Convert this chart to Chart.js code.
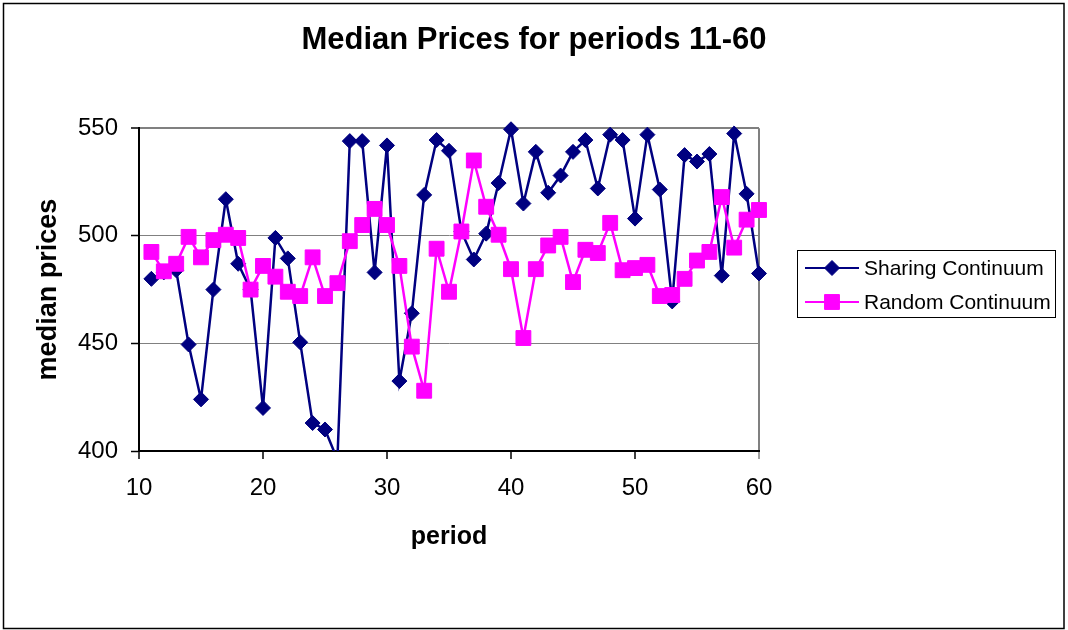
<!DOCTYPE html>
<html>
<head>
<meta charset="utf-8">
<title>Median Prices for periods 11-60</title>
<script src="https://cdn.jsdelivr.net/npm/chart.js@4.4.0/dist/chart.umd.min.js"></script>
<style>
    html, body { margin: 0; padding: 0; background: #ffffff; }
    #priceChart { display: block; }
</style>
</head>
<body>
<canvas id="priceChart" width="1068" height="630"></canvas>
<script>
// Data
const periods = [11, 12, 13, 14, 15, 16, 17, 18, 19, 20,
                 21, 22, 23, 24, 25, 26, 27, 28, 29, 30,
                 31, 32, 33, 34, 35, 36, 37, 38, 39, 40,
                 41, 42, 43, 44, 45, 46, 47, 48, 49, 50,
                 51, 52, 53, 54, 55, 56, 57, 58, 59, 60];

const sharingContinuum = [480, 483, 484, 449.5, 424, 475, 517, 487, 475, 420,
                          499, 489.5, 450.5, 413, 410, 396, 544, 544, 483, 542,
                          432.5, 464, 519, 544.5, 539.5, 502, 489, 501, 524.5, 549.5,
                          515, 539, 520, 528, 539, 544.5, 522, 547, 544.5, 508,
                          547, 521.5, 469.5, 537.5, 534.5, 538, 481.5, 547.5, 519.5, 482.5];

const randomContinuum = [492.5, 483.5, 487, 499.5, 490, 498, 500.5, 499, 475, 486,
                         481, 474, 472, 490, 472, 478, 497.5, 505, 512.5, 505,
                         486, 448.5, 428, 494, 474, 502, 535, 513.5, 500.5, 484.5,
                         452.5, 484.5, 495.5, 499.5, 478.5, 493.5, 492, 506, 484, 485,
                         486.5, 472, 472.5, 480, 488.5, 492.5, 518, 494.5, 507.5, 512];

const seriesLabels = ['Sharing Continuum', 'Random Continuum'];
const xTicks = [10, 20, 30, 40, 50, 60];
const yTicks = [400, 450, 500, 550];

const FONT = '"Liberation Sans", Arial, Helvetica, sans-serif';

const toPoints = (values) => values.map((v, i) => ({ x: periods[i], y: v }));

// White page with the thin outer frame
const framePlugin = {
    id: 'frame',
    beforeDraw(chart) {
        const ctx = chart.ctx;
        ctx.save();
        ctx.fillStyle = '#ffffff';
        ctx.fillRect(0, 0, chart.width, chart.height);
        ctx.strokeStyle = '#000000';
        ctx.lineWidth = 1.5;
        ctx.strokeRect(3.5, 3.5, 1060.5, 625);
        ctx.restore();
    }
};

// Excel-like legend: line with marker through it, boxed
const boxLegendPlugin = {
    id: 'boxLegend',
    afterDraw(chart) {
        const ctx = chart.ctx;
        const box = { x: 797.5, y: 250.5, w: 258, h: 67 };
        ctx.save();
        ctx.strokeStyle = '#000000';
        ctx.lineWidth = 1;
        ctx.strokeRect(box.x, box.y, box.w, box.h);

        const rows = [268, 302];
        seriesLabels.forEach((label, i) => {
            const ds = chart.data.datasets.find(d => d.label === label);
            const y = rows[i];
            ctx.strokeStyle = ds.borderColor;
            ctx.lineWidth = 2;
            ctx.beginPath();
            ctx.moveTo(805, y);
            ctx.lineTo(859, y);
            ctx.stroke();

            ctx.fillStyle = ds.pointBackgroundColor;
            ctx.strokeStyle = ds.pointBorderColor;
            ctx.lineWidth = 1;
            Chart.helpers.drawPoint(ctx, {
                pointStyle: ds.pointStyle,
                radius: ds.pointRadius,
                rotation: 0,
                borderWidth: 1
            }, 832, y);

            ctx.fillStyle = '#000000';
            ctx.font = '21px ' + FONT;
            ctx.textAlign = 'left';
            ctx.textBaseline = 'middle';
            ctx.fillText(label, 864, y + 1);
        });
        ctx.restore();
    }
};

const chart = new Chart(document.getElementById('priceChart'), {
    type: 'line',
    data: {
        datasets: [
            {
                label: seriesLabels[0],
                data: toPoints(sharingContinuum),
                borderColor: '#000080',
                backgroundColor: '#000080',
                borderWidth: 2.5,
                pointStyle: 'rectRot',
                pointRadius: 7.5,
                pointBackgroundColor: '#000080',
                pointBorderColor: '#000080',
                pointBorderWidth: 1,
                tension: 0,
                order: 1,
                clip: { left: 20, right: 20, top: 20, bottom: 0 }
            },
            {
                label: seriesLabels[1],
                data: toPoints(randomContinuum),
                borderColor: '#ff00ff',
                backgroundColor: '#ff00ff',
                borderWidth: 2.5,
                pointStyle: 'rect',
                pointRadius: 10.5,
                pointBackgroundColor: '#ff00ff',
                pointBorderColor: '#ff00ff',
                pointBorderWidth: 1,
                tension: 0,
                order: 0,
                clip: { left: 20, right: 20, top: 20, bottom: 0 }
            }
        ]
    },
    options: {
        responsive: false,
        animation: false,
        events: [],
        plugins: {
            legend: { display: false },
            tooltip: { enabled: false },
            title: {
                display: true,
                text: 'Median Prices for periods 11-60',
                color: '#000000',
                font: { family: FONT, size: 31, weight: 'bold', lineHeight: 1.2 },
                padding: { top: 22, bottom: 69 }
            }
        },
        scales: {
            x: {
                type: 'linear',
                min: xTicks[0],
                max: xTicks[xTicks.length - 1],
                afterBuildTicks: (scale) => { scale.ticks = xTicks.map(v => ({ value: v })); },
                afterFit: (scale) => { scale.height = 179; },
                border: { display: true, color: '#000000', width: 2 },
                grid: {
                    color: (c) => c.tick && c.tick.value === 60 ? '#808080' : 'transparent',
                    lineWidth: 2,
                    drawTicks: true,
                    tickLength: 8,
                    tickColor: (c) => c.tick && c.tick.value === 60 ? '#808080' : '#000000',
                    tickWidth: 1.5
                },
                ticks: {
                    color: '#000000',
                    padding: 15,
                    maxRotation: 0,
                    font: { family: FONT, size: 24 }
                },
                title: {
                    display: true,
                    text: 'period',
                    color: '#000000',
                    font: { family: FONT, size: 25, weight: 'bold', lineHeight: 1.2 },
                    padding: { top: 0, bottom: 78 }
                }
            },
            y: {
                min: yTicks[0],
                max: yTicks[yTicks.length - 1],
                afterBuildTicks: (scale) => { scale.ticks = yTicks.map(v => ({ value: v })); },
                afterFit: (scale) => { scale.width = 139; },
                border: { display: true, color: '#000000', width: 2 },
                grid: {
                    color: '#808080',
                    lineWidth: (c) => c.tick && c.tick.value === 550 ? 2 : 1,
                    drawTicks: true,
                    tickLength: 8,
                    tickColor: '#000000',
                    tickWidth: 1.5
                },
                ticks: {
                    color: '#000000',
                    padding: 13,
                    font: { family: FONT, size: 24 }
                },
                title: {
                    display: true,
                    text: 'median prices',
                    color: '#000000',
                    font: { family: FONT, size: 27, weight: 'bold', lineHeight: 1.2 },
                    padding: { top: 32, bottom: 0 }
                }
            },
            // empty right-hand axis that only reserves room for the legend
            legendSpace: {
                type: 'linear',
                position: 'right',
                min: yTicks[0],
                max: yTicks[yTicks.length - 1],
                afterFit: (scale) => { scale.width = 309; },
                border: { display: false },
                grid: { display: false },
                ticks: { display: false }
            }
        }
    },
    plugins: [framePlugin, boxLegendPlugin]
});
</script>
</body>
</html>
